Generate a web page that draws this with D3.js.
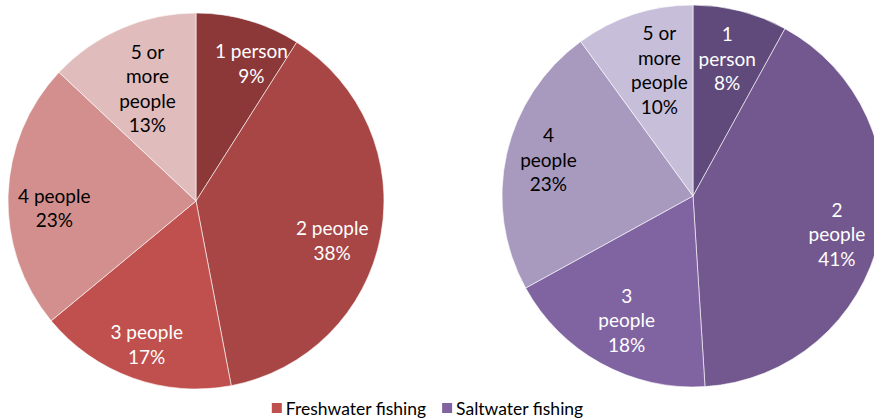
<!DOCTYPE html>
<html>
<head>
<meta charset="utf-8">
<script src="https://cdn.jsdelivr.net/npm/d3@7/dist/d3.min.js"></script>
<style>
  html, body { margin: 0; padding: 0; background: #fff; }
  svg { display: block; }
  text { font-family: Lato, "Open Sans", sans-serif; }
</style>
</head>
<body>
<svg id="chart" width="874" height="420"></svg>
<script>
// Household size of anglers, share of participants
const categories = ["1 person", "2 people", "3 people", "4 people", "5 or more people"];
const freshwaterValues = [9, 38, 17, 23, 13];
const saltwaterValues = [8, 41, 18, 23, 10];
const seriesNames = ["Freshwater fishing", "Saltwater fishing"];

// How each category name wraps inside its slice
const freshwaterLabelLines = [["1 person"], ["2 people"], ["3 people"], ["4 people"], ["5 or", "more", "people"]];
const saltwaterLabelLines = [["1", "person"], ["2", "people"], ["3", "people"], ["4", "people"], ["5 or", "more", "people"]];

// Slice colours, darkest for the first slice
const freshwaterColors = ["#8c3838", "#a84645", "#c0504d", "#d38f8d", "#e1bcbc"];
const saltwaterColors = ["#5f4a7b", "#72588f", "#8064a2", "#a899bf", "#c7bfd9"];
const textColors = ["#fff", "#fff", "#fff", "#000", "#000"];

// Label placement: distance from the centre (fraction of radius) and a turn (degrees) off the slice middle
const freshwaterLabelRadius = [0.787, 0.755, 0.81, 0.755, 0.65];
const freshwaterLabelTurn = [5.8, 5.6, -0.9, -4.8, 0];
const saltwaterLabelRadius = [0.74, 0.78, 0.74, 0.78, 0.68];
const saltwaterLabelTurn = [-0.4, 2.4, -0.8, 1.4, 3];

const svg = d3.select("#chart");

const pie = d3.pie().sort(null).value(d => d);

function drawPie(values, colors, lineSets, labelRadius, labelTurn, cx, cy, r) {
  const g = svg.append("g").attr("transform", `translate(${cx},${cy})`);
  const arcs = pie(values);
  const arc = d3.arc().innerRadius(0).outerRadius(r);

  g.selectAll("path.slice")
    .data(arcs)
    .join("path")
    .attr("class", "slice")
    .attr("d", arc)
    .attr("fill", (d, i) => colors[i])
    .attr("stroke", "#fff")
    .attr("stroke-width", 0.6);

  const lineH = 24.5;
  g.selectAll("text.lbl")
    .data(arcs)
    .join("text")
    .attr("class", "lbl")
    .attr("text-anchor", "middle")
    .attr("font-size", 19)
    .attr("fill", (d, i) => textColors[i])
    .each(function (d, i) {
      const lr = r * labelRadius[i];
      const a = (d.startAngle + d.endAngle) / 2 + labelTurn[i] * Math.PI / 180;
      const c = [lr * Math.sin(a), -lr * Math.cos(a)];
      const lines = lineSets[i].concat([`${d.data}%`]);
      const top = c[1] - (lines.length - 1) * lineH / 2;
      const t = d3.select(this);
      lines.forEach((s, k) => {
        t.append("tspan")
          .attr("x", c[0])
          .attr("y", top + k * lineH)
          .attr("dy", "0.35em")
          .text(s);
      });
    });
}

drawPie(freshwaterValues, freshwaterColors, freshwaterLabelLines, freshwaterLabelRadius, freshwaterLabelTurn, 196, 201, 188);
drawPie(saltwaterValues, saltwaterColors, saltwaterLabelLines, saltwaterLabelRadius, saltwaterLabelTurn, 693, 196, 191);

// Legend, centred under the two pies
const legendColors = [freshwaterColors[2], saltwaterColors[2]];
const legend = svg.append("g");
let x = 0;
seriesNames.forEach((name, i) => {
  const item = legend.append("g").attr("transform", `translate(${x},0)`);
  item.append("rect").attr("x", 0).attr("y", -12).attr("width", 10).attr("height", 10).attr("fill", legendColors[i]);
  const t = item.append("text").attr("x", 14).attr("y", 0).attr("font-size", 17.5).attr("fill", "#000").text(name);
  x += 14 + t.node().getComputedTextLength() + 16;
});
const legendW = x - 16;
legend.attr("transform", `translate(${427.5 - legendW / 2},415)`);
</script>
</body>
</html>
